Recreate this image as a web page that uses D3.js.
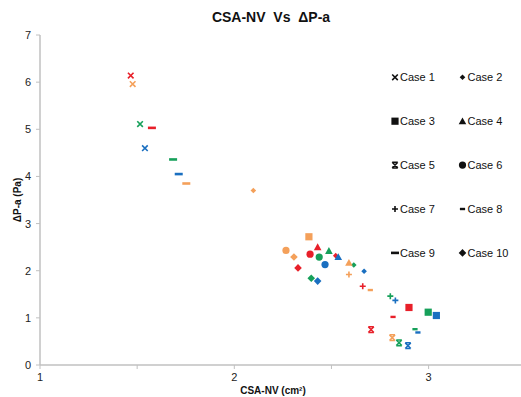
<!DOCTYPE html>
<html><head><meta charset="utf-8">
<script src="https://cdn.jsdelivr.net/npm/d3@7"></script>
<style>body{margin:0;background:#fff}svg{display:block;font-family:"Liberation Sans",Arial,sans-serif}</style>
</head><body><svg id="c" width="521" height="397"></svg>
<script>
const cases = ["Case 1","Case 2","Case 3","Case 4","Case 5","Case 6","Case 7","Case 8","Case 9","Case 10"];
const groups = ["red","orange","green","blue"];
const groupColors = ["#e8202a","#f4a05a","#16a05a","#1a6fc0"];
// [x, y] per group (red, orange, green, blue) for each case
const case1  = [[1.467,6.14],[1.477,5.96],[1.515,5.11],[1.540,4.60]];
const case2  = [[2.522,2.32],[2.098,3.70],[2.615,2.12],[2.668,1.99]];
const case3  = [[2.899,1.22],[2.384,2.72],[2.998,1.12],[3.040,1.05]];
const case4  = [[2.429,2.50],[2.590,2.17],[2.487,2.42],[2.535,2.29]];
const case5  = [[2.704,0.75],[2.813,0.58],[2.848,0.47],[2.894,0.41]];
const case6  = [[2.390,2.35],[2.266,2.43],[2.437,2.29],[2.467,2.13]];
const case7  = [[2.661,1.67],[2.590,1.92],[2.803,1.46],[2.829,1.37]];
const case8  = [[2.817,1.02],[2.700,1.59],[2.930,0.76],[2.945,0.69]];
const case9  = [[1.576,5.03],[1.753,3.85],[1.685,4.36],[1.714,4.05]];
const case10 = [[2.328,2.06],[2.307,2.29],[2.396,1.84],[2.429,1.78]];
const caseData = [case1,case2,case3,case4,case5,case6,case7,case8,case9,case10];
const xTicks = [1,1.5,2,2.5,3,3.5];
const xLabels = [1,2,3];
const yTicks = [0,1,2,3,4,5,6,7];

const svg = d3.select("#c");
const x = d3.scaleLinear().domain([1,3.5]).range([40,525.75]);
const y = d3.scaleLinear().domain([0,7]).range([365,35]);

function markerPath(i){
  const p = d3.path();
  if(i===0){ const s=2.8; p.moveTo(-s,-s);p.lineTo(s,s);p.moveTo(s,-s);p.lineTo(-s,s); return {d:p.toString(),stroke:true,w:1.6}; }
  if(i===1){ const s=2.8; p.moveTo(0,-s);p.lineTo(s,0);p.lineTo(0,s);p.lineTo(-s,0);p.closePath(); return {d:p.toString()}; }
  if(i===2){ const s=3.6; p.rect(-s,-s,2*s,2*s); return {d:p.toString()}; }
  if(i===3){ const s=3.8; p.moveTo(0,-s);p.lineTo(s,s*0.8);p.lineTo(-s,s*0.8);p.closePath(); return {d:p.toString()}; }
  if(i===4){ const s=2.8; p.moveTo(-s,-s);p.lineTo(s,s);p.moveTo(s,-s);p.lineTo(-s,s);p.moveTo(-s,-s);p.lineTo(s,-s);p.moveTo(-s,s);p.lineTo(s,s); return {d:p.toString(),stroke:true,w:1.5}; }
  if(i===5){ p.arc(0,0,3.6,0,2*Math.PI); return {d:p.toString()}; }
  if(i===6){ const s=3; p.moveTo(-s,0);p.lineTo(s,0);p.moveTo(0,-s);p.lineTo(0,s); return {d:p.toString(),stroke:true,w:1.6}; }
  if(i===7){ p.rect(-2.6,-1.2,5.2,2.4); return {d:p.toString()}; }
  if(i===8){ p.rect(-4,-1.3,8,2.6); return {d:p.toString()}; }
  if(i===9){ const s=3.8; p.moveTo(0,-s);p.lineTo(s,0);p.lineTo(0,s);p.lineTo(-s,0);p.closePath(); return {d:p.toString()}; }
}

// axes
const axisColor = "#c0c0c0";
const gx = svg.append("g").attr("transform","translate(0,365)");
gx.append("line").attr("x1",x(1)).attr("x2",521).attr("stroke",axisColor).attr("stroke-width",1.5);
gx.selectAll(".t").data(xTicks).join("line").attr("x1",d=>x(d)).attr("x2",d=>x(d)).attr("y1",0).attr("y2",4).attr("stroke",axisColor);
gx.selectAll(".l").data(xLabels).join("text").attr("x",d=>x(d)).attr("y",16).attr("text-anchor","middle")
  .attr("font-size",11).attr("fill","#222").text(d=>d);

const gy = svg.append("g").attr("transform","translate(40,0)");
gy.append("line").attr("y1",y(0)).attr("y2",y(7)).attr("stroke",axisColor).attr("stroke-width",1.5);
gy.selectAll(".t").data(yTicks).join("line").attr("x1",-4).attr("x2",0).attr("y1",d=>y(d)).attr("y2",d=>y(d)).attr("stroke",axisColor);
gy.selectAll(".l").data(yTicks).join("text").attr("x",-9).attr("y",d=>y(d)+4).attr("text-anchor","end")
  .attr("font-size",11).attr("fill","#222").text(d=>d);

// titles
svg.append("text").attr("x",271).attr("y",22).attr("text-anchor","middle").attr("font-size",14).attr("font-weight","bold").attr("fill","#111").attr("xml:space","preserve").text("CSA-NV  Vs  ΔP-a");
svg.append("text").attr("x",273).attr("y",394).attr("text-anchor","middle").attr("font-size",10).attr("font-weight","bold").attr("fill","#111")
  .text("CSA-NV (cm²)");
svg.append("text").attr("transform","translate(21,200) rotate(-90)").attr("text-anchor","middle").attr("font-size",10).attr("font-weight","bold").attr("fill","#111").text("ΔP-a (Pa)");

// points
caseData.forEach((pts,ci)=>{
  const m = markerPath(ci);
  svg.append("g").selectAll("path").data(pts).join("path")
    .attr("transform",d=>`translate(${x(d[0])},${y(d[1])})`)
    .attr("d",m.d)
    .attr("fill",(d,gi)=>m.stroke ? "none" : groupColors[gi])
    .attr("stroke",(d,gi)=>m.stroke ? groupColors[gi] : "none")
    .attr("stroke-width",m.w||0);
});

// legend
const lg = svg.append("g");
cases.forEach((c,i)=>{
  const col = i%2, row = Math.floor(i/2);
  const mx = col===0 ? 395 : 462.5, my = 77.3 + row*43.9;
  const m = markerPath(i);
  lg.append("path").attr("transform",`translate(${mx},${my})`).attr("d",m.d)
    .attr("fill",m.stroke ? "none":"#111").attr("stroke",m.stroke?"#111":"none").attr("stroke-width",m.w||0);
  lg.append("text").attr("x",mx+5).attr("y",my+4).attr("font-size",11).attr("fill","#111").text(c);
});
</script></body></html>
